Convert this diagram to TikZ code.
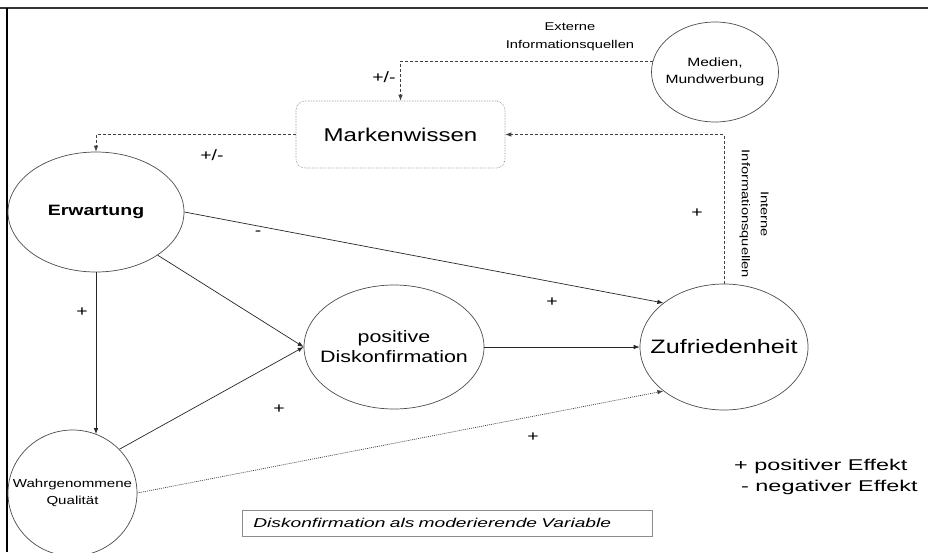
\documentclass[tikz,border=0pt]{standalone}
\usepackage{fontspec}
\setmainfont{Liberation Sans}[FakeStretch=1.3]
\newfontfamily\wideB{Liberation Sans}[FakeStretch=1.5]
\usetikzlibrary{shapes.geometric,arrows.meta}
\newcommand\fsz[2]{\fontsize{#1}{#2}\selectfont}
\begin{document}
\begin{tikzpicture}[x=1pt,y=-1pt,
  ell/.style={ellipse, draw=black!70, line width=0.7pt, inner sep=0pt},
  txt/.style={inner sep=0pt, align=center},
  arr/.style={-{Latex[length=6pt,width=4.5pt]}, line width=0.7pt, draw=black!85},
  dsh/.style={arr, dash pattern=on 3pt off 2pt, draw=black!75},
  dtt/.style={arr, dash pattern=on 1pt off 1pt, draw=black!75},
  lbl/.style={inner sep=0pt, font=\fsz{15}{17}}]
\useasboundingbox (0,0) rectangle (928,552);
% frame
\draw[line width=2.5pt, black!80] (0,8) -- (928,8);
\draw[line width=2.5pt, black] (7,8) -- (7,552);
% shapes
\node[ell, minimum width=127, minimum height=100] (med) at (715,72) {};
\node[txt, font=\fsz{12}{17}] (medt) at (med.center) {Medien,\\Mundwerbung};
\node[draw=black!50, densely dotted, line width=0.6pt, rounded corners=9pt, minimum width=209, minimum height=67, inner sep=0pt, font=\fsz{18.5}{20}] (mw) at (400.5,134.5) {Markenwissen};
\node[ell, minimum width=176, minimum height=120] (erw) at (96,212) {};
\node[txt, font=\fsz{15}{17}\bfseries] (erwt) at (erw.center) {Erwartung};
\node[ell, minimum width=168, minimum height=126] (zuf) at (724,347) {};
\node[txt, font=\fsz{19.4}{22}] (zuft) at (zuf.center) {Zufriedenheit};
\node[ell, minimum width=180, minimum height=124] (pd) at (394,347) {};
\node[txt, font=\fsz{16.5}{20}] (pdt) at (pd.center) {positive\\Diskonfirmation};
\node[ell, minimum width=129, minimum height=126] (wq) at (72.5,493) {};
\node[txt, font=\fsz{11.6}{17}] (wqt) at (wq.center) {Wahrgenommene\\Qualit\"at};
% connectors
\draw[dsh] (med.170) -| (mw.north);
\draw[dsh] (mw.west) -| (erw.north);
\draw[dsh] (zuf.north) |- (mw.east);
\draw[arr] (erw.east) -- (zuf.144);
\draw[arr] (erw.-35) -- (pd.west);
\draw[arr] (erw.south) -- (erw.south |- wq.68);
\draw[arr] (wq.43) -- (pd.west);
\draw[dtt] (wq.east) -- (zuf.216);
\draw[arr] (pd.east) -- (zuf.west);
% labels
\node[lbl] (l1) at (384,77) {+/-};
\node[lbl] (l2) at (212,155) {+/-};
\node[lbl] (l3) at (258,233) {-};
\node[lbl] (l4) at (697,213) {+};
\node[lbl] (l5) at (552,302) {+};
\node[lbl] (l6) at (82,312) {+};
\node[lbl] (l7) at (279,409) {+};
\node[lbl] (l8) at (533,437) {+};
\node[txt, font=\fsz{11.3}{18}] (ext) at (570,37) {Externe\\Informationsquellen};
\node[txt, rotate=-90, font=\fsz{11.3}{19}] (int) at (754,214) {Interne\\Informationsquellen};
% legend
\node[inner sep=0pt, anchor=west, font=\wideB\fsz{15.6}{18}] (lg1) at (734,466) {+ positiver Effekt};
\node[inner sep=0pt, anchor=west, font=\wideB\fsz{15.6}{18}] (lg2) at (741,487) {- negativer Effekt};
\node[draw=black!45, line width=0.6pt, anchor=west, minimum height=26, text width=388pt, inner xsep=11pt, align=left, font=\wideB\itshape\fsz{12.8}{15}] (box) at (242,523) {Diskonfirmation als moderierende Variable};
\end{tikzpicture}
\end{document}
